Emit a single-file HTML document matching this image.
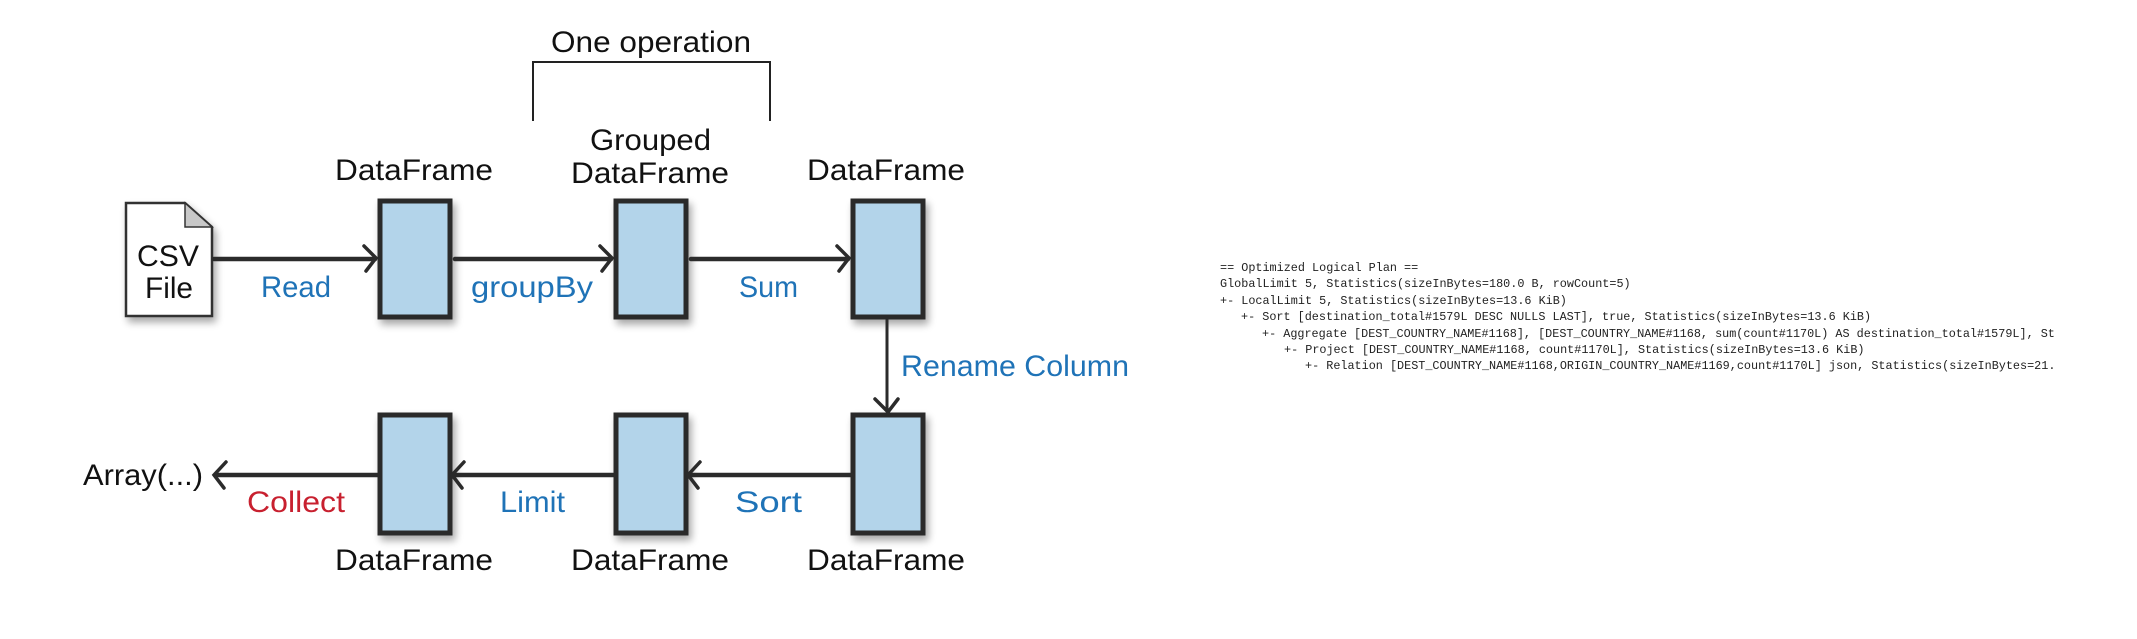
<!DOCTYPE html>
<html><head><meta charset="utf-8"><style>
html,body{margin:0;padding:0;background:#fff;width:2137px;height:639px;overflow:hidden}
.m text{white-space:pre}
</style></head><body>
<svg width="2137" height="639" viewBox="0 0 2137 639" xmlns="http://www.w3.org/2000/svg">
<defs>
<filter id="sh" x="-30%" y="-30%" width="160%" height="160%"><feGaussianBlur in="SourceAlpha" stdDeviation="4"/><feOffset dx="3" dy="5"/><feComponentTransfer><feFuncA type="linear" slope="0.35"/></feComponentTransfer><feMerge><feMergeNode/><feMergeNode in="SourceGraphic"/></feMerge></filter>
</defs>
<g font-family="Liberation Sans, sans-serif" font-size="30">
<text x="551" y="52" textLength="200" lengthAdjust="spacingAndGlyphs" fill="#111">One operation</text>
<path d="M533 121 V62 H770 V121" fill="none" stroke="#222" stroke-width="2"/>
<text x="335" y="180" textLength="158" lengthAdjust="spacingAndGlyphs" fill="#111">DataFrame</text>
<text x="590" y="150" textLength="121" lengthAdjust="spacingAndGlyphs" fill="#111">Grouped</text>
<text x="571" y="183" textLength="158" lengthAdjust="spacingAndGlyphs" fill="#111">DataFrame</text>
<text x="807" y="180" textLength="158" lengthAdjust="spacingAndGlyphs" fill="#111">DataFrame</text>
<path d="M126 203 H185 L212 227 V316 H126 Z" fill="#fff" stroke="#333" stroke-width="2.5" filter="url(#sh)"/>
<path d="M185 203 V227 H212 Z" fill="#c8c8c8" stroke="#333" stroke-width="1.5"/>
<text x="137" y="266" textLength="62" lengthAdjust="spacingAndGlyphs" fill="#111">CSV</text>
<text x="145" y="298" textLength="48" lengthAdjust="spacingAndGlyphs" fill="#111">File</text>
<g fill="#b3d4ea" stroke="#2b2b2b" stroke-width="5" filter="url(#sh)">
<rect x="380" y="201" width="70" height="116"/>
<rect x="616" y="201" width="70" height="116"/>
<rect x="853" y="201" width="70" height="116"/>
<rect x="380" y="415" width="70" height="118"/>
<rect x="616" y="415" width="70" height="118"/>
<rect x="853" y="415" width="70" height="118"/>
</g>
<g stroke="#2b2b2b" stroke-width="4.5" fill="none" stroke-linecap="round">
<path d="M214 259 H375"/><path d="M364 246 L376 258 L366 271" stroke-width="3.5"/>
<path d="M455 259 H611"/><path d="M600 246 L612 258 L602 271" stroke-width="3.5"/>
<path d="M691 259 H848"/><path d="M837 246 L849 258 L839 271" stroke-width="3.5"/>
<path d="M887 320 V411" stroke-width="3"/><path d="M875 399 L888 412 L898 399" stroke-width="3.5"/>
<path d="M852 475 H690"/><path d="M700 462 L688 475 L698 488" stroke-width="3.5"/>
<path d="M614 475 H454"/><path d="M464 462 L452 475 L462 488" stroke-width="3.5"/>
<path d="M378 475 H216"/><path d="M226 462 L214 475 L224 488" stroke-width="3.5"/>
</g>
<g fill="#1f73b7">
<text x="261" y="297" textLength="70" lengthAdjust="spacingAndGlyphs">Read</text>
<text x="471" y="297" textLength="122" lengthAdjust="spacingAndGlyphs">groupBy</text>
<text x="739" y="297" textLength="59" lengthAdjust="spacingAndGlyphs">Sum</text>
<text x="901" y="376" textLength="228" lengthAdjust="spacingAndGlyphs">Rename Column</text>
<text x="500" y="512" textLength="65" lengthAdjust="spacingAndGlyphs">Limit</text>
<text x="735" y="512" textLength="67" lengthAdjust="spacingAndGlyphs">Sort</text>
</g>
<text x="247" y="512" textLength="98" lengthAdjust="spacingAndGlyphs" fill="#c8202f">Collect</text>
<text x="83" y="485" textLength="120" lengthAdjust="spacingAndGlyphs" fill="#111">Array(...)</text>
<text x="335" y="570" textLength="158" lengthAdjust="spacingAndGlyphs" fill="#111">DataFrame</text>
<text x="571" y="570" textLength="158" lengthAdjust="spacingAndGlyphs" fill="#111">DataFrame</text>
<text x="807" y="570" textLength="158" lengthAdjust="spacingAndGlyphs" fill="#111">DataFrame</text>
</g>
<g class="m" font-family="Liberation Mono, monospace" font-size="11.8" fill="#222">
<text x="1220" y="271">== Optimized Logical Plan ==</text>
<text x="1220" y="287">GlobalLimit 5, Statistics(sizeInBytes=180.0 B, rowCount=5)</text>
<text x="1220" y="304">+- LocalLimit 5, Statistics(sizeInBytes=13.6 KiB)</text>
<text x="1241" y="320">+- Sort [destination_total#1579L DESC NULLS LAST], true, Statistics(sizeInBytes=13.6 KiB)</text>
<text x="1262" y="337">+- Aggregate [DEST_COUNTRY_NAME#1168], [DEST_COUNTRY_NAME#1168, sum(count#1170L) AS destination_total#1579L], St</text>
<text x="1284" y="353">+- Project [DEST_COUNTRY_NAME#1168, count#1170L], Statistics(sizeInBytes=13.6 KiB)</text>
<text x="1305" y="369">+- Relation [DEST_COUNTRY_NAME#1168,ORIGIN_COUNTRY_NAME#1169,count#1170L] json, Statistics(sizeInBytes=21.</text>
</g>
</svg>
</body></html>
